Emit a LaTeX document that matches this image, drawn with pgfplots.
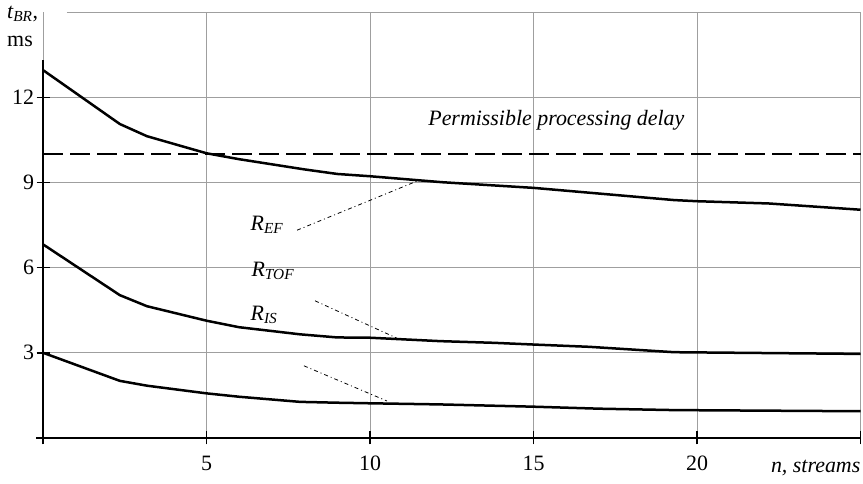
\documentclass[border=0pt]{standalone}
\usepackage{fontspec}
\setmainfont{Liberation Serif}
\usepackage{pgfplots}
\pgfplotsset{compat=1.18}

\begin{document}
\begin{tikzpicture}[lbl/.style={font=\fontsize{22}{25}\selectfont}]
\begin{axis}[
  scale only axis,
  width=817.5bp, height=425.7bp,
  xmin=0, xmax=25, ymin=0, ymax=15,
  clip=false,
  axis line style={draw=none},
  xtick={0,5,...,25},
  xticklabels={,5,10,15,20,},
  ytick={3,6,9,12},
  xtick pos=bottom, ytick pos=left,
  tick align=center,
  major tick length=13bp,
  tick style={black, line width=1.6bp},
  grid=major,
  major grid style={gray!75, line width=0.8bp},
  every tick label/.append style={font=\fontsize{22}{25}\selectfont},
  xticklabel style={yshift=-8bp},
  yticklabel style={xshift=1bp},
  /pgf/number format/assume math mode=true,
]
% top grid line, shortened where the axis title stands
\draw[gray!75, line width=0.8bp] (axis cs:0.73,15) -- (axis cs:25,15);
% axis lines
\draw[black, line width=2.6bp] (axis cs:-0.2,0) -- (axis cs:25,0);
\draw[black, line width=2.6bp] (axis cs:0,0) -- (axis cs:0,13.3);

% permissible delay
\addplot[black, line width=2.6bp, dash pattern=on 20bp off 7bp] coordinates {(0,10) (25,10)};

% R_EF
\addplot[black, line width=2.5bp] coordinates {
(0,12.96) (2.35,11.06) (3.18,10.63) (5,10.03) (6,9.82) (7,9.64) (8,9.46)
(9,9.30) (10,9.22) (12.2,9.01) (15,8.81) (16.7,8.64) (19.3,8.38) (20,8.34)
(22.2,8.26) (25,8.04)};
% R_TOF
\addplot[black, line width=2.5bp] coordinates {
(0,6.82) (2.35,5.03) (3.18,4.64) (5,4.13) (6,3.90) (7.86,3.65) (9,3.54)
(10,3.53) (12.14,3.41) (13.8,3.35) (15,3.29) (16.7,3.21) (19.3,3.02) (25,2.96)};
% R_IS
\addplot[black, line width=2.5bp] coordinates {
(0,3.00) (2.35,2.01) (3.18,1.84) (5,1.57) (6,1.45) (7.86,1.27) (9,1.24)
(10,1.22) (12.14,1.18) (15,1.10) (17,1.03) (19.3,0.98) (25,0.94)};

% leader lines
\draw[black, line width=0.8bp, dash pattern=on 4bp off 3bp on 1bp off 3bp]
  (axis cs:7.77,7.32) -- (axis cs:11.44,9.05);
\draw[black, line width=0.8bp, dash pattern=on 4bp off 3bp on 1bp off 3bp]
  (axis cs:8.32,4.83) -- (axis cs:10.83,3.51);
\draw[black, line width=0.8bp, dash pattern=on 4bp off 3bp on 1bp off 3bp]
  (axis cs:7.98,2.54) -- (axis cs:10.52,1.30);

\node[lbl] at (axis cs:6.85,7.5) {\textit{R\textsubscript{EF}}};
\node[lbl] at (axis cs:7.03,5.9) {\textit{R\textsubscript{TOF}}};
\node[lbl] at (axis cs:6.76,4.33) {\textit{R\textsubscript{IS}}};
\node[lbl] at (axis cs:15.7,11.2) {\textit{Permissible processing delay}};
\node[lbl, anchor=east, inner sep=0pt] at (axis cs:25.0,-1.06) {\textit{n, streams}};
\node[lbl, anchor=north west, align=left, inner sep=0pt] at (axis cs:-1.10,15.22)
  {\textit{t\textsubscript{BR}},\\[3pt]ms};

\coordinate (bl) at (axis cs:-1.315,-1.593);
\coordinate (tr) at (axis cs:25.076,15.43);
\end{axis}
\pgfresetboundingbox
\path (bl) rectangle (tr);
\end{tikzpicture}
\end{document}
